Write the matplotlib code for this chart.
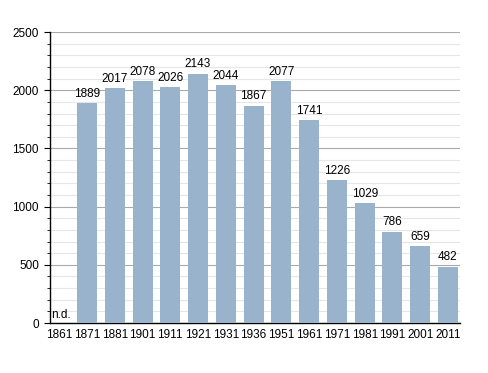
import matplotlib
matplotlib.use("Agg")
import matplotlib.pyplot as plt
from matplotlib.ticker import MultipleLocator
from matplotlib import font_manager

names = {f.name for f in font_manager.fontManager.ttflist}
fam = 'Liberation Sans Narrow' if 'Liberation Sans Narrow' in names else 'Liberation Sans'
fs = 9 if fam == 'Liberation Sans Narrow' else 8.5
plt.rcParams['font.family'] = [fam, 'DejaVu Sans']

years = ["1861", "1871", "1881", "1901", "1911", "1921", "1931", "1936", "1951",
         "1961", "1971", "1981", "1991", "2001", "2011"]
population = [None, 1889, 2017, 2078, 2026, 2143, 2044, 1867, 2077,
              1741, 1226, 1029, 786, 659, 482]
yticks = [0, 500, 1000, 1500, 2000, 2500]

fig = plt.figure(figsize=(4.88, 3.73), dpi=100)
ax = fig.add_axes([0.1025, 0.134, 0.84, 0.78])

x = list(range(len(years)))
vals = [v if v is not None else 0 for v in population]
bars = ax.bar(x, vals, width=0.72, color="#9ab3cd", zorder=3)
for xi, v in zip(x, population):
    if v is None:
        ax.text(xi - 0.3, 20, "n.d.", ha="left", va="bottom", fontsize=fs, zorder=4)
    else:
        ax.text(xi, v + 30, str(v), ha="center", va="bottom", fontsize=fs, zorder=4)

ax.set_xlim(-0.33, len(years) - 1 + 0.43)
ax.set_ylim(0, 2500)
ax.set_xticks(x)
ax.set_xticklabels(years, fontsize=fs)
ax.set_yticks(yticks)
ax.set_yticklabels([str(t) for t in yticks], fontsize=fs)
ax.yaxis.set_minor_locator(MultipleLocator(100))
ax.grid(axis="y", which="major", color="#aaaaaa", linewidth=0.8, zorder=0)
ax.grid(axis="y", which="minor", color="#e6e6e6", linewidth=0.8, zorder=0)
ax.tick_params(axis="x", length=0, pad=4)
ax.tick_params(axis="y", which="major", length=4, pad=4)
ax.tick_params(axis="y", which="minor", length=2)
for s in ["top", "right"]:
    ax.spines[s].set_visible(False)
ax.spines["left"].set_linewidth(1)
ax.spines["bottom"].set_linewidth(1)

fig.savefig("out.png", dpi=100)
